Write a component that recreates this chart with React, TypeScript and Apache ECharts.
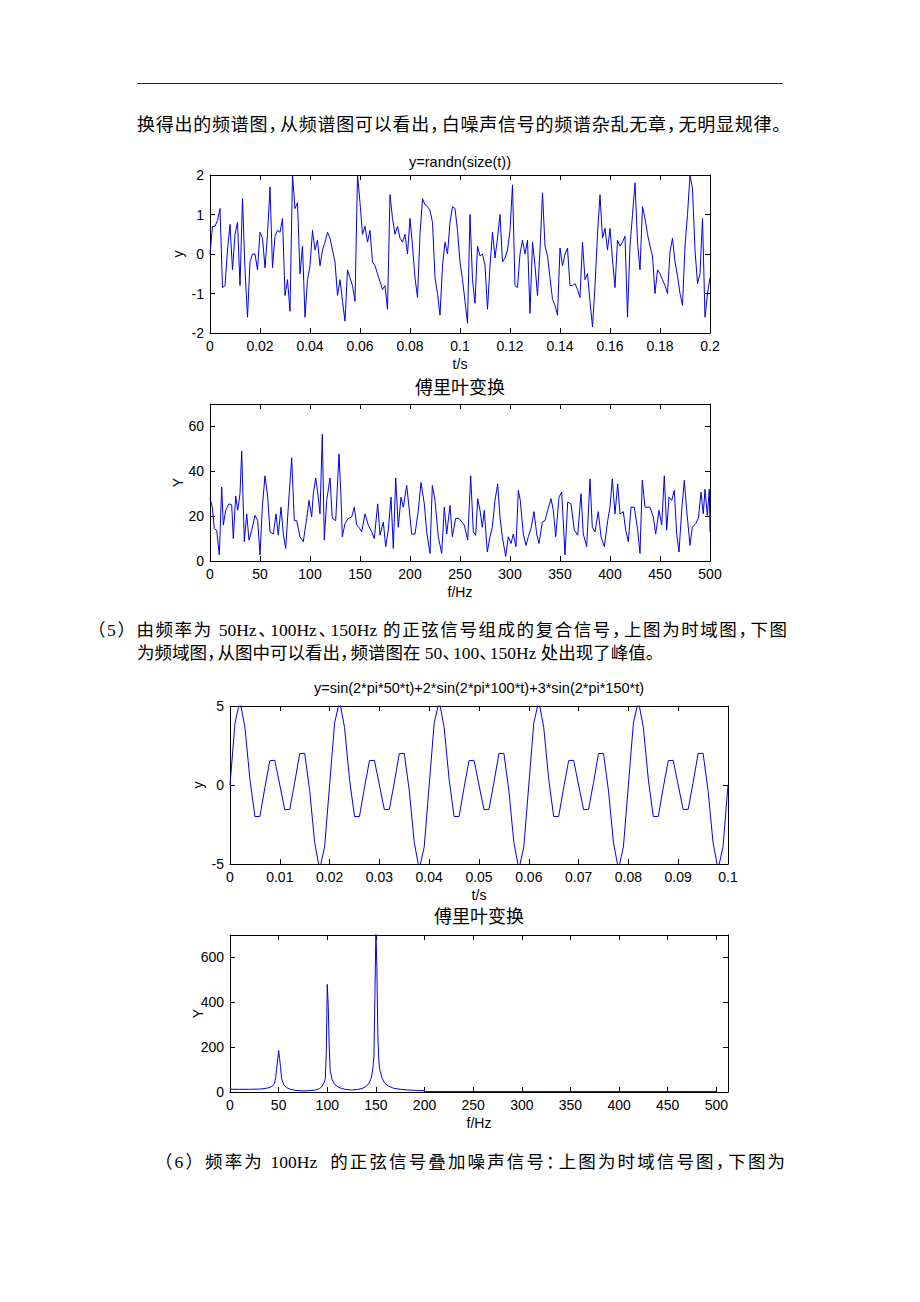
import React, { useEffect, useRef } from 'react';
import * as echarts from 'echarts';

// ---------- data ----------
// Chart 1: white noise, sampled every 0.001 s from 0 to 0.2 s
const noiseStep = 0.001;
const noiseY = [
  0.0, 0.7, 0.7, 0.85, 1.15, -0.85, -0.8, 0.1, 0.75, -0.4,
  0.5, 0.8, -0.8, 1.4, -0.4, -1.6, -0.2, 0.0, 0.0, -0.4,
  0.55, 0.4, -0.35, 0.5, 1.7, -0.35, 0.45, 0.6, 0.55, 0.9,
  -1.05, -0.65, -1.45, 2.0, 1.15, 1.3, -0.5, 0.2, -1.6, -0.65,
  -0.3, 0.6, 0.1, 0.35, -0.3, 0.1, 0.3, 0.55, 0.4, 0.1,
  -0.2, -1.05, -0.65, -1.2, -1.7, -0.4, -0.6, -0.8, -1.2, 2.0,
  1.3, 0.5, 0.7, 0.3, 0.6, -0.2, -0.3, -0.5, -0.7, -0.9,
  -0.8, -1.4, 1.5, 0.9, 0.5, 0.7, 0.4, 0.3, 0.5, 0.0,
  0.9, 0.2, -0.6, -1.1, 0.5, 1.4, 1.25, 1.2, 1.1, 0.8,
  -0.6, -1.0, -1.55, -0.3, 0.3, 0.0, 0.8, 1.2, 1.15, 0.6,
  -0.2, -0.65, -1.2, -1.75, 1.0, -0.65, -1.25, 0.2, -0.05, 0.0,
  -0.3, -1.4, -0.3, 0.55, -0.1, 0.4, 1.0, -0.2, -0.1, 0.1,
  0.6, 1.75, -0.8, -0.85, 0.0, 0.35, 0.0, 0.35, -1.5, 0.3,
  -0.3, -1.05, 0.1, 1.55, 0.2, -0.05, -0.6, -1.15, -1.3, -1.55,
  0.15, -0.3, 0.0, 0.15, -0.8, -0.8, -0.75, -0.9, -1.1, 0.3,
  -0.65, -0.5, -1.2, -1.85, -0.8, 0.5, 1.5, 0.4, 0.65, 0.1,
  0.65, -0.15, -0.85, 0.35, 0.2, 0.3, 0.45, -1.6, 0.2, 1.0,
  1.8, 0.3, -0.4, 1.2, 0.9, 0.5, 0.2, -0.05, -1.0, -0.4,
  -0.5, -0.65, -0.8, -1.0, 0.05, 0.4, -0.2, -0.55, -1.0, -1.3,
  0.2, 1.0, 2.0, 1.65, 0.1, -0.75, -0.5, 0.9, -1.6, -1.0,
  -0.6,
];

// Chart 2: spectrum of the noise
const noiseSpecFreq = [
  0, 2.3, 4.3, 6.7, 9.3, 11.7, 13.3, 15.7, 19,
  21.7, 23.3, 25.7, 27.7, 30, 31.7, 34.3, 36.7, 39, 41.7,
  45, 47.7, 50, 52.3, 55, 57.7, 60, 63.3, 66, 68.3,
  71, 73.3, 75.7, 78.3, 81.7, 84.3, 86.7, 90, 93.3, 96.7,
  99, 101.7, 103.3, 105.7, 108.3, 110, 112.3, 114.3, 116.7, 120,
  122.3, 125.7, 129, 131, 132.3, 135, 138.3, 141.7, 144.3, 146.7,
  149, 151.7, 155, 158.3, 161.7, 164.3, 167.7, 170, 173.3, 175.7,
  178.3, 181, 183.3, 185.7, 188.3, 191, 193.3, 196.7, 199, 201.7,
  205, 208.3, 211, 214.3, 216.7, 220, 222.3, 225, 228.3, 231.7,
  234.3, 236.7, 240, 242.3, 245.7, 249,
  254.3, 257.7, 260.7, 263.3, 265.7, 267.7, 270, 272.3, 274.3, 277.3,
  280, 282.3, 285, 287.7, 290, 292.3, 295.7, 298.3, 301, 303.3,
  306, 308.3, 310.3, 313.3, 316, 318.3, 321, 324, 326.7, 329,
  332.3, 335, 337.7, 341, 343.3, 345.7, 349, 351.7, 355, 357.7,
  361, 364.3, 367.7, 371, 373.3, 376.7, 380, 382.3, 385, 388.3,
  391, 394.3, 397.7, 400, 402.3, 405, 407.7, 410, 413.3, 415.7,
  418.3, 421, 424.3, 427.7, 430, 432.3, 435, 440, 443.3, 445.7,
  449, 451.7, 454.3, 456.7, 459, 461.7, 464.3, 466.7, 469, 471.7,
  474.3, 476.7, 480, 482.3, 485.7, 488.3, 491, 493.3, 495, 497.3,
  499.3, 500,
];
const noiseSpecMag = [
  28, 24, 14.5, 13.7, 2.7, 33, 16, 22.6, 25.5,
  25, 10, 29, 22.6, 30, 49, 8.6, 21, 9.3, 13.7,
  20.4, 18, 2.7, 24, 38, 28.5, 13, 12, 21, 11.5,
  24, 12, 5.6, 24, 46, 18, 18, 10.8, 8.6, 19,
  27, 19.6, 30, 37, 28.5, 21, 56.5, 9.3, 27, 37,
  19, 18, 47.7, 28.5, 10.8, 16.7, 19, 19.6, 24, 16,
  15, 13, 21, 16, 13, 10, 25.5, 11.5, 17.4, 6.4,
  13.7, 28.5, 5.6, 37, 15, 28.5, 24, 33.7, 24, 12,
  12, 22.6, 35, 25.5, 13, 3.4, 33.7, 27, 10.8, 3.4,
  24, 12, 24.8, 10.8, 19, 19,
  16, 9.3, 38, 13, 11.5, 27.8, 22.6, 15, 22.6, 4,
  10.8, 15, 27, 34.4, 19.6, 10.8, 2, 10.8, 7.8, 12,
  6.4, 31.5, 27, 12, 7, 10.8, 14.5, 22, 12, 7.8,
  17.4, 18, 22.6, 27.8, 22.6, 10.8, 28.5, 30.7, 2.7, 26.3,
  25.5, 13.7, 11.5, 30, 12, 6.4, 36.6, 15, 13, 22,
  10.8, 6.4, 18, 24, 36.6, 21, 34.4, 21, 22, 13.7,
  8.6, 24, 24, 13.7, 3.4, 36, 24, 24, 19.6, 12,
  22.6, 16, 38, 13.7, 28.5, 27, 31.5, 12, 4, 22.6,
  36, 22.6, 7, 15, 16.7, 19, 30.7, 21, 32, 20.4,
  32, 13,
];

// Chart 3: composite sine, sampled every 0.001 s from 0 to 0.1 s
const sineStep = 0.001;
const sineY = [
  0, 3.91, 5.34, 3.64, 0.36, -2, -1.99, -0.17, 1.54, 1.56, 0, -1.56, -1.54, 0.17, 1.99, 2, -0.36, -3.64, -5.34, -3.91,
  0, 3.91, 5.34, 3.64, 0.36, -2, -1.99, -0.17, 1.54, 1.56, 0, -1.56, -1.54, 0.17, 1.99, 2, -0.36, -3.64, -5.34, -3.91,
  0, 3.91, 5.34, 3.64, 0.36, -2, -1.99, -0.17, 1.54, 1.56, 0, -1.56, -1.54, 0.17, 1.99, 2, -0.36, -3.64, -5.34, -3.91,
  0, 3.91, 5.34, 3.64, 0.36, -2, -1.99, -0.17, 1.54, 1.56, 0, -1.56, -1.54, 0.17, 1.99, 2, -0.36, -3.64, -5.34, -3.91,
  0, 3.91, 5.34, 3.64, 0.36, -2, -1.99, -0.17, 1.54, 1.56, 0, -1.56, -1.54, 0.17, 1.99, 2, -0.36, -3.64, -5.34, -3.91,
  0,
];

// Chart 4: spectrum of the composite sine
const sineSpecFreq = [
  0, 10, 20, 30, 35, 40, 43, 45, 46, 47,
  48, 49, 50, 51, 52, 53, 55, 58, 62, 68,
  75, 82, 88, 92, 94, 96, 97, 98, 99, 100,
  101, 102, 103, 105, 108, 112, 118, 125, 131, 136,
  140, 143, 145, 146, 147, 148, 149, 150, 151, 152,
  153, 154, 156, 159, 163, 168, 175, 183, 192, 200,
  201, 250, 300, 350, 400, 450, 500,
];
const sineSpecMag = [
  12, 12, 12, 13, 15, 19, 25, 33, 45, 65,
  105, 143, 185, 150, 110, 60, 35, 20, 12, 7,
  5, 6, 9, 15, 22, 35, 45, 60, 175, 480,
  385, 205, 95, 55, 32, 20, 12, 9, 11, 16,
  25, 40, 60, 80, 110, 160, 435, 720, 555, 255,
  140, 100, 65, 40, 26, 17, 12, 9, 7, 6,
  2, 2, 2, 2, 2, 2, 2,
];

// Texts
const chartTitles = [
  'y=randn(size(t))',
  '傅里叶变换',
  'y=sin(2*pi*50*t)+2*sin(2*pi*100*t)+3*sin(2*pi*150*t)',
  '傅里叶变换',
];
const xNames = ['t/s', 'f/Hz', 't/s', 'f/Hz'];
const yNames = ['y', 'Y', 'y', 'Y'];

const paragraphLines = [
  '换得出的频谱图，从频谱图可以看出，白噪声信号的频谱杂乱无章，无明显规律。',
  '（5）由频率为 50Hz、100Hz、150Hz 的正弦信号组成的复合信号，上图为时域图，下图',
  '为频域图，从图中可以看出，频谱图在 50、100、150Hz 处出现了峰值。',
  '（6）频率为 100Hz\u00a0 的正弦信号叠加噪声信号：上图为时域信号图，下图为',
];

// ---------- layout / style ----------
const AX_FONT = '"Liberation Sans", Arial, Helvetica, sans-serif';
const CJK_FONT = '"Noto Sans CJK SC", "Noto Sans", sans-serif';
const BODY_FONT = '"Liberation Serif", "Noto Sans CJK SC", serif';
const LINE_COLOR = '#0000e6';

const grids = [
  { left: 210, top: 175, width: 500, height: 158 },
  { left: 210, top: 404, width: 500, height: 157 },
  { left: 230, top: 706, width: 498, height: 158 },
  { left: 230, top: 935, width: 498, height: 157 },
];
const titleOffsets = [13, 18, 18, 20];

const paraLayout = [
  { left: 137, cy: 125, width: 646, size: 18, justify: true },
  { left: 88, cy: 630, width: 699, size: 17.5, justify: true },
  { left: 137, cy: 653, width: 640, size: 17.5, justify: false },
  { left: 155, cy: 1162, width: 630, size: 17.5, justify: true },
];

const fmtNum = (v: number) => String(Math.round(v * 1000) / 1000);

function axisPair(dim: 'x' | 'y', gi: number, min: number, max: number, interval: number, labelFmt: (v: number) => string) {
  const base: any = {
    gridIndex: gi,
    type: 'value',
    min,
    max,
    interval,
    splitLine: { show: false },
    axisLine: { show: true, onZero: false, lineStyle: { color: '#000', width: 1 } },
    axisTick: { show: true, inside: true, length: 5, lineStyle: { color: '#000', width: 1 } },
  };
  const labelStyle = { color: '#000', fontSize: 14, fontFamily: AX_FONT, formatter: labelFmt };
  if (dim === 'x') {
    return [
      { ...base, position: 'bottom', axisLabel: { ...labelStyle, show: true, margin: 6 } },
      { ...base, position: 'top', axisLabel: { show: false } },
    ];
  }
  return [
    { ...base, position: 'left', axisLabel: { ...labelStyle, show: true, margin: 6 } },
    { ...base, position: 'right', axisLabel: { show: false } },
  ];
}

function textEl(x: number, y: number, text: string, size: number, family: string, rotation = 0) {
  return {
    type: 'text',
    x,
    y,
    rotation,
    silent: true,
    style: {
      text,
      fill: '#000',
      fontSize: size,
      fontFamily: family,
      align: 'center',
      verticalAlign: 'middle',
      textAlign: 'center',
      textVerticalAlign: 'middle',
    },
  };
}

function StyledLine({ text }: { text: string }) {
  const parts = text.split(/([，、。：])/);
  return (
    <>
      {parts.map((p, i) =>
        /^[，、。：]$/.test(p) ? (
          <span key={i} style={{ letterSpacing: '-0.4em' }}>{p}</span>
        ) : (
          <React.Fragment key={i}>{p}</React.Fragment>
        )
      )}
    </>
  );
}

export default function App() {
  const ref = useRef<HTMLDivElement>(null);

  useEffect(() => {
    if (!ref.current) return;
    const chart = echarts.init(ref.current, undefined, { renderer: 'svg' });

    const xAxis = [
      ...axisPair('x', 0, 0, 0.2, 0.02, fmtNum),
      ...axisPair('x', 1, 0, 500, 50, fmtNum),
      ...axisPair('x', 2, 0, 0.1, 0.01, fmtNum),
      ...axisPair('x', 3, 0, 512, 50, (v: number) => (v % 50 === 0 ? String(v) : '')),
    ];
    const yAxis = [
      ...axisPair('y', 0, -2, 2, 1, fmtNum),
      ...axisPair('y', 1, 0, 70, 20, (v: number) => (v % 20 === 0 ? String(v) : '')),
      ...axisPair('y', 2, -5, 5, 5, fmtNum),
      ...axisPair('y', 3, 0, 700, 200, (v: number) => (v % 200 === 0 ? String(v) : '')),
    ];

    const lineSeries = (gi: number, data: number[][]) => ({
      type: 'line',
      xAxisIndex: gi * 2,
      yAxisIndex: gi * 2,
      data,
      showSymbol: false,
      symbol: 'none',
      clip: true,
      silent: true,
      lineStyle: { color: LINE_COLOR, width: 1 },
    });

    const d1 = noiseY.map((v, i) => [i * noiseStep, v]);
    const d2 = noiseSpecFreq.map((f, i) => [f, noiseSpecMag[i]]);
    const d3 = sineY.map((v, i) => [i * sineStep, v]);
    const d4 = sineSpecFreq.map((f, i) => [f, sineSpecMag[i]]);

    const graphics: any[] = [];
    grids.forEach((g, i) => {
      const cx = g.left + g.width / 2;
      const isCjk = /[\u4e00-\u9fff]/.test(chartTitles[i]);
      graphics.push(
        textEl(cx, g.top - titleOffsets[i], chartTitles[i], isCjk ? 18 : 14.5, isCjk ? CJK_FONT : AX_FONT)
      );
      graphics.push(textEl(cx, g.top + g.height + 31, xNames[i], 14, AX_FONT));
      graphics.push(textEl(g.left - 32, g.top + g.height / 2, yNames[i], 14, AX_FONT, Math.PI / 2));
    });

    chart.setOption({
      animation: false,
      backgroundColor: '#fff',
      grid: grids.map((g) => ({ ...g, containLabel: false })),
      xAxis,
      yAxis,
      series: [lineSeries(0, d1), lineSeries(1, d2), lineSeries(2, d3), lineSeries(3, d4)],
      graphic: { elements: graphics },
    });

    return () => chart.dispose();
  }, []);

  return (
    <div style={{ position: 'absolute', left: 0, top: 0, width: 920, height: 1302, background: '#fff' }}>
      <div ref={ref} style={{ position: 'absolute', left: 0, top: 0, width: 920, height: 1302 }} />
      <div style={{ position: 'absolute', left: 137, top: 83, width: 646, height: 0, borderTop: '1.5px solid #222' }} />
      {paragraphLines.map((t, i) => {
        const l = paraLayout[i];
        return (
          <div
            key={i}
            style={{
              position: 'absolute',
              left: l.left,
              top: l.cy - 12,
              width: l.width,
              height: 24,
              lineHeight: '24px',
              fontSize: l.size,
              fontFamily: BODY_FONT,
              color: '#000',
              textAlign: l.justify ? 'justify' : 'left',
              textAlignLast: l.justify ? 'justify' : 'left',
            } as React.CSSProperties}
          >
            <StyledLine text={t} />
          </div>
        );
      })}
    </div>
  );
}
